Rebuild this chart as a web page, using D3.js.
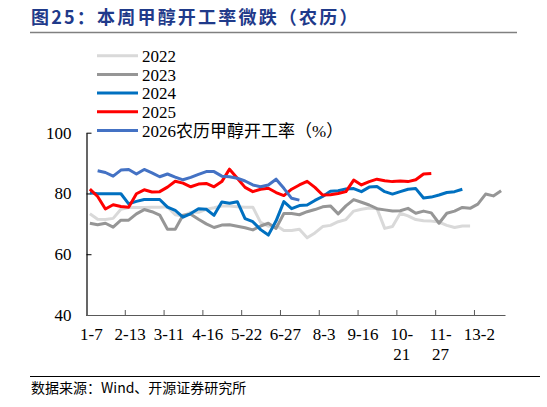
<!DOCTYPE html>
<html><head><meta charset="utf-8">
<script src="https://cdn.jsdelivr.net/npm/d3@7"></script>
<style>
html,body{margin:0;padding:0;background:#fff;}
svg{display:block;}
</style></head>
<body>
<script>
// ---- data ----
const nCategories = 54;
const labelIndex = [0,5,10,15,20,25,30,35,40,45,50];
const tickLabels = ["1-7","2-13","3-11","4-16","5-22","6-27","8-3","9-16","10-21","11-27","13-2"];
const tickBoundaries = [5,10,15,20,25,30,35,40,45,50];
const yTicks = [40,60,80,100];

const s2022 = [73.3,71.5,71.4,71.8,74.8,75.4,75.4,75.4,75.5,75.5,75.6,73.0,72.6,73.8,73.8,74.8,75.3,75.9,75.9,75.6,75.5,75.5,70.5,69.2,69.5,67.8,67.8,68.2,65.4,67.0,69.1,69.5,70.7,71.4,74.2,74.8,75.2,75.0,68.5,69.1,73.5,72.6,71.4,71.0,70.9,70.6,69.5,68.8,69.3,69.3];
const s2023 = [70.2,69.7,70.2,68.9,71.2,71.2,73.3,74.7,74.0,72.9,68.2,68.2,72.8,73.2,71.5,70.0,68.8,69.6,69.7,69.2,68.7,68.0,69.3,70.2,68.5,73.4,73.4,73.0,74.0,74.7,75.6,75.9,73.3,75.9,78.0,77.1,76.2,75.0,74.6,74.2,74.3,75.1,73.5,74.2,73.6,70.2,73.5,74.2,75.4,75.1,76.5,79.8,79.2,80.9];
const s2024 = [80.2,79.9,79.9,79.9,79.9,76.6,77.4,78.0,78.0,78.0,75.5,74.4,72.2,73.4,75.0,74.8,72.8,77.2,76.8,77.3,71.7,70.7,68.1,66.3,71.0,77.3,75.0,76.0,76.2,77.7,79.0,80.7,80.9,81.5,81.6,80.6,82.1,82.3,80.6,79.8,80.6,81.4,81.6,78.5,78.8,79.5,80.3,80.6,81.4];
const s2025 = [81.4,79.0,74.9,76.3,75.7,75.5,79.9,81.2,80.5,80.6,82.1,84.0,83.4,82.2,83.1,83.3,82.2,83.9,88.0,85.0,82.0,80.6,81.4,81.7,80.3,79.3,81.4,82.8,84.0,82.0,79.5,79.6,80.0,80.6,84.4,82.8,83.9,84.7,84.2,83.9,84.1,83.9,84.5,86.4,86.6];
const s2026 = [null,87.5,86.9,85.7,87.7,87.9,86.4,87.9,86.8,85.5,86.4,85.4,84.5,85.3,86.3,87.2,87.2,85.7,85.5,85.0,84.1,82.8,82.2,82.8,84.7,81.7,78.4,77.8];

const seriesNames = ["2022","2023","2024","2025","2026农历甲醇开工率（%）"];
const seriesColors = ["#D9D9D9","#969696","#0070C0","#FF0000","#4472C4"];
const seriesData = [s2022,s2023,s2024,s2025,s2026];

// ---- chart ----
const W = 547, H = 407;
const svg = d3.select("body").append("svg").attr("width",W).attr("height",H);
svg.append("rect").attr("width",W).attr("height",H).attr("fill","#fff");

const serif = "'Liberation Serif','Times New Roman','Noto Sans CJK SC',serif";
const cjk = "'Noto Sans CJK SC','Noto Sans',sans-serif";

// title
svg.append("text").attr("x",31).attr("y",23.5)
  .attr("font-family",cjk).attr("font-weight","bold").attr("font-size",18)
  .attr("letter-spacing",2.2).attr("fill","#1F3A8A")
  .text("图25：本周甲醇开工率微跌（农历）");
svg.append("line").attr("x1",30).attr("x2",517).attr("y1",32.5).attr("y2",32.5)
  .attr("stroke","#808080").attr("stroke-width",1.5);

const x = d3.scaleBand().domain(d3.range(nCategories)).range([86,505]).paddingInner(0).paddingOuter(0);
const xb = d3.scaleLinear().domain([0,nCategories]).range([86,505]);
const y = d3.scaleLinear().domain([40,100]).range([315,132.7]);

// y axis
const ya = svg.append("g").attr("transform","translate(86.5,0)")
  .call(d3.axisLeft(y).tickValues(yTicks).tickSizeInner(-5).tickSizeOuter(0).tickPadding(15));
ya.select(".domain").attr("stroke","#000").attr("stroke-width",1.2);
ya.selectAll(".tick line").attr("stroke","#000");
ya.selectAll("text").attr("font-family",serif).attr("font-size",17).attr("fill","#000");

// x axis ticks
const xa = svg.append("g").attr("transform","translate(0,315)")
  .call(d3.axisBottom(xb).tickValues(tickBoundaries).tickSizeInner(-5).tickSizeOuter(0).tickFormat(""));
xa.select(".domain").attr("stroke","#595959").attr("stroke-width",1.2);
xa.selectAll(".tick line").attr("stroke","#595959");

// x labels
const xl = svg.append("g").attr("transform","translate(1.5,315)")
  .call(d3.axisBottom(x).tickValues(labelIndex).tickSize(0).tickPadding(0)
    .tickFormat((d,i)=>tickLabels[i]));
xl.select(".domain").remove();
xl.selectAll("text").each(function(d,i){
  const t = d3.select(this);
  const lab = tickLabels[i];
  t.text(null).attr("y",0).attr("dy",null)
   .attr("font-family",serif).attr("font-size",17).attr("fill","#000");
  const parts = lab.length > 4 ? [lab.slice(0,3), lab.slice(3)] : [lab];
  parts.forEach((p,k)=>{
    t.append("tspan").attr("x",0).attr("y",25+k*19.5).text(p);
  });
});

// lines
const line = d3.line().defined(v=>v!=null)
  .x((v,i)=>x(i)+x.bandwidth()/2).y(v=>y(v));
seriesData.forEach((s,k)=>{
  svg.append("path").datum(s).attr("d",line).attr("fill","none")
    .attr("stroke",seriesColors[k]).attr("stroke-width",3)
    .attr("stroke-linejoin","round").attr("stroke-linecap","butt");
});

// legend
const lg = svg.append("g");
seriesNames.forEach((n,k)=>{
  const cy = 55.7 + k*18.7;
  lg.append("line").attr("x1",97).attr("x2",138).attr("y1",cy).attr("y2",cy)
    .attr("stroke",seriesColors[k]).attr("stroke-width",3);
  lg.append("text").attr("x",142).attr("y",cy+6.2)
    .attr("font-family",serif).attr("font-size",17).attr("fill","#000").text(n);
});

// footer
svg.append("line").attr("x1",30).attr("x2",540).attr("y1",376.5).attr("y2",376.5)
  .attr("stroke","#000").attr("stroke-width",1);
svg.append("text").attr("x",31).attr("y",393)
  .attr("font-family",cjk).attr("font-size",14).attr("fill","#000")
  .text("数据来源：Wind、开源证券研究所");
</script>
</body></html>
